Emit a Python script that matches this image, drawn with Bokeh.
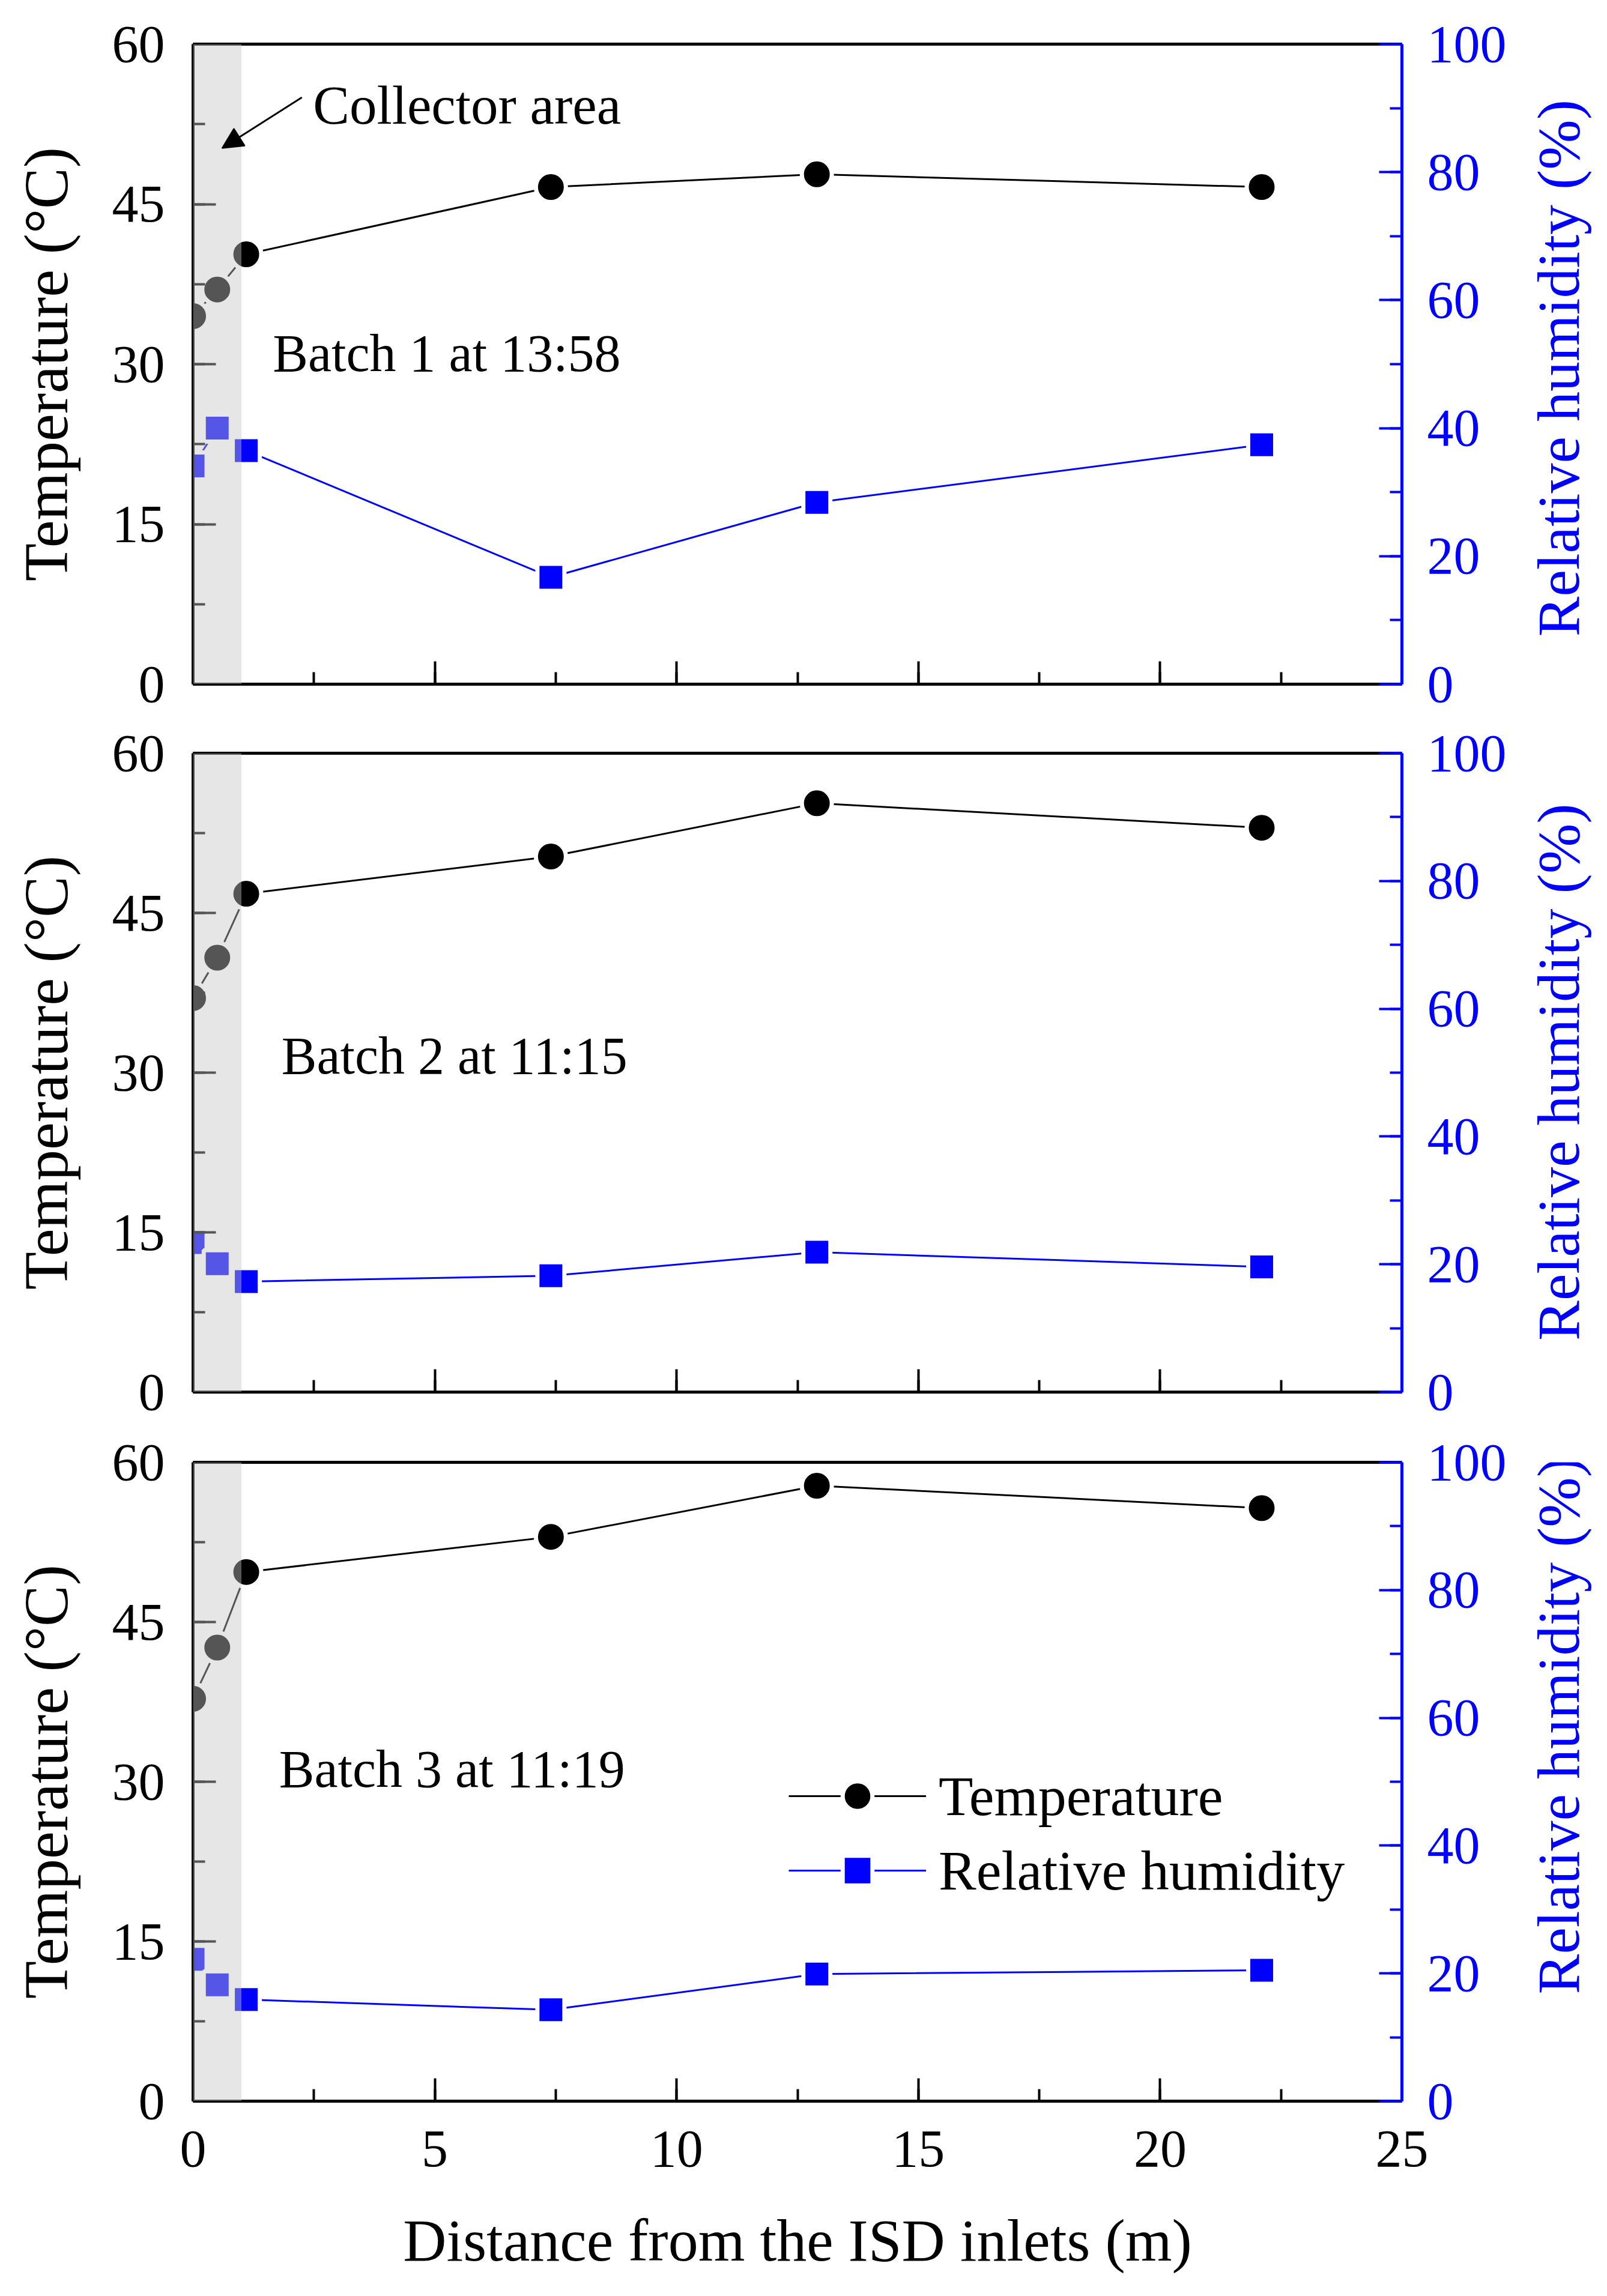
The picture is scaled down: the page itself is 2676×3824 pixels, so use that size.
import math
from bokeh.plotting import figure
from bokeh.models import (Range1d, LinearAxis, SingleIntervalTicker, FixedTicker,
                          BoxAnnotation, Arrow, NormalHead, Legend, LegendItem,
                          ColumnDataSource)
from bokeh.layouts import column, row
from bokeh.embed import file_html
from bokeh.resources import INLINE
from bokeh.core.properties import value

# ---------------- data ----------------
distance = [0, 0.5, 1.1, 7.4, 12.9, 22.1]          # m from ISD inlets
temp_batch1 = [34.5, 37.0, 40.3, 46.6, 47.8, 46.6]   # degC
rh_batch1 = [34.1, 40.0, 36.5, 16.7, 28.4, 37.4]     # %
temp_batch2 = [37.0, 40.8, 46.8, 50.3, 55.3, 53.0]
rh_batch2 = [23.4, 20.1, 17.3, 18.2, 21.9, 19.6]
temp_batch3 = [37.8, 42.6, 49.7, 53.0, 57.8, 55.7]
rh_batch3 = [22.2, 18.2, 15.9, 14.3, 19.9, 20.5]

batch_labels = ["Batch 1 at 13:58", "Batch 2 at 11:15", "Batch 3 at 11:19"]
batch_label_x = [1.65, 1.83, 1.78]
batch_label_y = [31.0, 31.6, 31.2]

collector_area = [0.0, 1.0]          # x extent of the shaded collector area
collector_text = "Collector area"
collector_text_pos = [2.48, 54.25]
collector_arrow = [2.25, 55.0, 0.6, 50.25]   # x_start, y_start, x_end, y_end

x_range_vals = [0, 25]
temp_range_vals = [0, 60]
rh_range_vals = [0, 100]

legend_labels = ["Temperature", "Relative humidity"]
x_title = "Distance from the ISD inlets (m)"
y_title = "Temperature (\u00b0C)"
y2_title = "Relative humidity (%)"

FONT = "Liberation Serif"
BLUE = "#0000ff"

temps = [temp_batch1, temp_batch2, temp_batch3]
rhs = [rh_batch1, rh_batch2, rh_batch3]

TW = 130                      # width of the strip holding the right-hand title
W = 2660 - TW
LEFT, RIGHT = 321, 326 - TW
heights = [1197, 1180, 1431]
tops = [73, 57, 58]
bottoms = [58, 59, 309]

x_range = Range1d(*x_range_vals)


def style_axis(ax, color):
    ax.axis_line_color = color
    ax.axis_line_width = 5
    ax.major_tick_line_color = color
    ax.major_tick_line_width = 4
    ax.minor_tick_line_color = color
    ax.minor_tick_line_width = 4
    ax.major_tick_in = 38
    ax.major_tick_out = 0
    ax.minor_tick_in = 20
    ax.minor_tick_out = 0
    ax.major_label_text_font = FONT
    ax.major_label_text_font_size = "88px"
    ax.major_label_text_color = color
    ax.axis_label_text_font = FONT
    ax.axis_label_text_font_size = "100px"
    ax.axis_label_text_font_style = "normal"
    ax.axis_label_text_color = color


rows = []
for i in range(3):
    last = (i == 2)
    p = figure(width=W, height=heights[i], x_range=x_range,
               y_range=Range1d(*temp_range_vals),
               output_backend="svg", toolbar_location=None, title=None,
               x_axis_location="below", y_axis_location="left",
               min_border_left=LEFT, min_border_right=RIGHT,
               min_border_top=tops[i], min_border_bottom=bottoms[i])
    p.extra_y_ranges = {"rh": Range1d(*rh_range_vals)}
    p.outline_line_color = None
    p.background_fill_color = "white"
    p.border_fill_color = "white"
    p.xgrid.visible = False
    p.ygrid.visible = False

    # left axis
    ya = p.yaxis[0]
    ya.ticker = SingleIntervalTicker(interval=15, num_minor_ticks=2)
    style_axis(ya, "black")
    ya.axis_label = y_title
    ya.axis_label_text_font_size = "103px"
    ya.major_label_standoff = 47
    ya.axis_label_standoff = 50

    # bottom axis
    xa = p.xaxis[0]
    xa.ticker = SingleIntervalTicker(interval=5, num_minor_ticks=2)
    style_axis(xa, "black")
    if last:
        xa.axis_label = x_title
        xa.major_label_standoff = 50
        xa.axis_label_standoff = 65
    else:
        xa.major_label_text_color = None
        xa.major_label_standoff = 0

    # right axis
    ra = LinearAxis(y_range_name="rh",
                    ticker=SingleIntervalTicker(interval=20, num_minor_ticks=2))
    style_axis(ra, BLUE)
    ra.major_label_standoff = 42
    p.add_layout(ra, "right")

    # top frame line
    ta = LinearAxis(ticker=FixedTicker(ticks=[]))
    ta.axis_line_color = "black"
    ta.axis_line_width = 5
    ta.major_tick_in = 0
    ta.major_tick_out = 0
    ta.minor_tick_in = 0
    ta.minor_tick_out = 0
    ta.major_label_text_color = None
    p.add_layout(ta, "above")

    src = ColumnDataSource(dict(x=distance, t=temps[i], rh=rhs[i]))
    lr = p.line("x", "rh", source=src, line_color=BLUE, line_width=3,
                y_range_name="rh")
    lt = p.line("x", "t", source=src, line_color="black", line_width=3)
    sr = p.scatter("x", "rh", source=src, marker="square", size=45,
                   fill_color=BLUE, line_color="white", line_width=7,
                   y_range_name="rh")
    st = p.scatter("x", "t", source=src, marker="circle", size=50,
                   fill_color="black", line_color="white", line_width=7)

    # collector area shading, drawn over the data
    band = BoxAnnotation(left=collector_area[0], right=collector_area[1],
                         fill_color=(197, 197, 197), fill_alpha=0.43,
                         line_color=None)
    p.add_layout(band)

    p.text(x=[batch_label_x[i]], y=[batch_label_y[i]], text=[batch_labels[i]],
           text_font=value(FONT), text_font_size="88px",
           text_align="left", text_baseline="alphabetic", text_color="black")

    if i == 0:
        p.text(x=[collector_text_pos[0]], y=[collector_text_pos[1]],
               text=[collector_text], text_font=value(FONT),
               text_font_size="91px", text_align="left",
               text_baseline="alphabetic", text_color="black")
        arr = Arrow(end=NormalHead(size=34, fill_color="black",
                                   line_color="black", line_width=2),
                    x_start=collector_arrow[0], y_start=collector_arrow[1],
                    x_end=collector_arrow[2], y_end=collector_arrow[3],
                    line_color="black", line_width=3)
        p.add_layout(arr)

    if last:
        legend = Legend(items=[LegendItem(label=legend_labels[0], renderers=[lt, st]),
                               LegendItem(label=legend_labels[1], renderers=[lr, sr])],
                        location=(992, 322), padding=0, margin=0, spacing=0,
                        glyph_width=229, glyph_height=124, label_height=124,
                        label_standoff=21, border_line_color=None,
                        background_fill_alpha=0,
                        label_text_font=FONT, label_text_font_size="94px",
                        label_text_color="black")
        p.add_layout(legend)

    # right-hand title strip (reads bottom to top, like the left title)
    h = heights[i]
    t = figure(width=TW, height=h, x_range=Range1d(0, TW), y_range=Range1d(0, h),
               output_backend="svg", toolbar_location=None, title=None,
               x_axis_type=None, y_axis_type=None,
               min_border_left=0, min_border_right=0,
               min_border_top=0, min_border_bottom=0)
    t.outline_line_color = None
    t.xgrid.visible = False
    t.ygrid.visible = False
    frame_h = h - tops[i] - bottoms[i]
    t.text(x=[TW / 2], y=[h - tops[i] - frame_h / 2], text=[y2_title],
           angle=math.pi / 2, text_font=value(FONT), text_font_size="100px",
           text_align="center", text_baseline="middle", text_color=BLUE)
    rows.append(row(p, t, spacing=0))

layout = column(*rows, spacing=0)
open("out.html", "w").write(file_html(layout, INLINE))
